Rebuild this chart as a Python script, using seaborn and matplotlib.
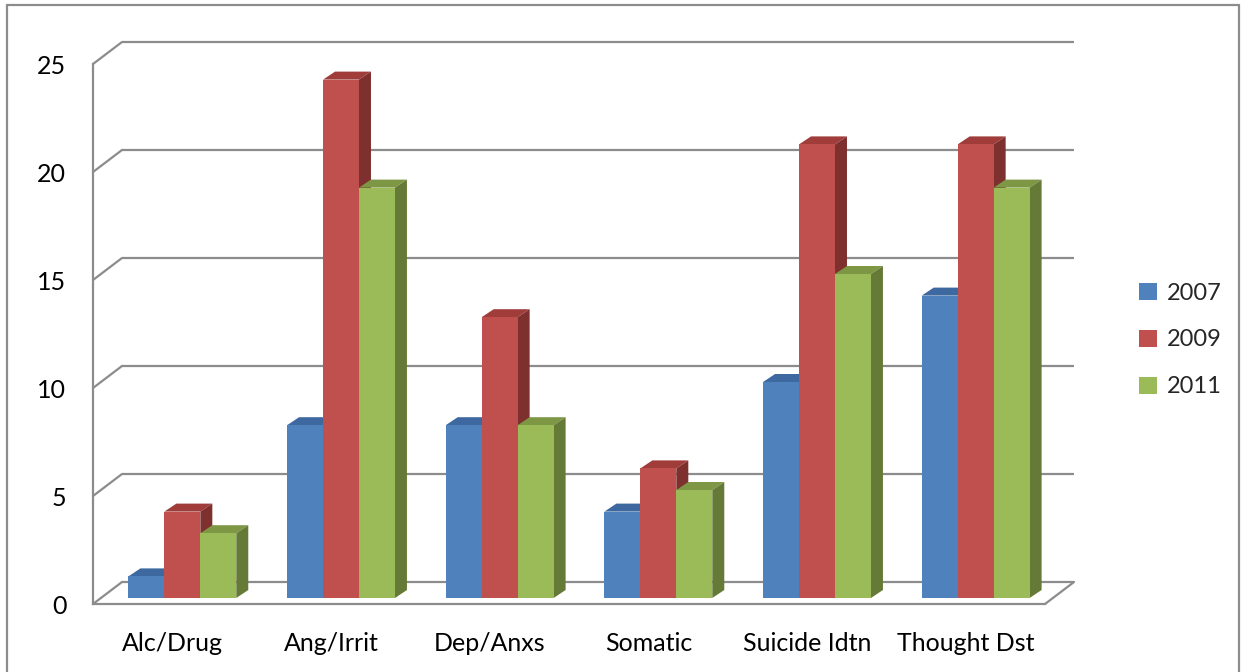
import matplotlib
matplotlib.use("Agg")
import matplotlib.pyplot as plt
from matplotlib.patches import Polygon
from matplotlib.lines import Line2D
import seaborn as sns
import pandas as pd

# ---- data ----
categories = ["Alc/Drug", "Ang/Irrit", "Dep/Anxs", "Somatic", "Suicide Idtn", "Thought Dst"]
years = ["2007", "2009", "2011"]
v2007 = [1, 8, 8, 4, 10, 14]
v2009 = [4, 24, 13, 6, 21, 21]
v2011 = [3, 19, 8, 5, 15, 19]
y_ticks = [0, 5, 10, 15, 20, 25]

front_cols = ["#4f81bd", "#c0504d", "#9bbb59"]
top_cols = ["#3e68a0", "#a03d3a", "#7d9744"]
side_cols = ["#355a8b", "#7e302e", "#667a37"]
grid_col = "#8c8c8c"

df = pd.DataFrame({
    "category": categories * 3,
    "year": [y for y in years for _ in categories],
    "value": v2007 + v2009 + v2011,
})

sns.set_theme(style="white")
plt.rcParams["font.family"] = ["Lato", "DejaVu Sans"]

DPI = 100
W, H = 1241, 672
fig = plt.figure(figsize=(W / DPI, H / DPI), dpi=DPI)
fig.patch.set_facecolor("white")

# front plane of the plot area, in pixels
x_left, x_right = 93, 1045
y_zero, y_top = 604, 64
ax = fig.add_axes([x_left / W, 1 - y_zero / H, (x_right - x_left) / W, (y_zero - y_top) / H])
ax.set_facecolor("none")

sns.barplot(data=df, x="category", y="value", hue="year", order=categories,
            hue_order=years, palette=front_cols, width=0.68, saturation=1,
            linewidth=0, ax=ax, legend=True)
ax.set_xlim(-0.5, len(categories) - 0.5)
ax.set_ylim(0, 25)


def px(dx, dy):
    """Convert a pixel offset into data units."""
    o = ax.transData.transform((0, 0))
    p = ax.transData.inverted().transform(o + (dx, dy))
    return p[0], p[1]


# bar placement inside the depth and the bar depth itself
bx, by = px(10, 6)
dx, dy = px(12, 8)
# wall depth
wx, wy = px(29, 22)

for j, cont in enumerate(ax.containers):
    for bar in cont:
        x0 = bar.get_x() + bx
        w = bar.get_width()
        h = bar.get_height()
        bar.set_x(x0)
        bar.set_y(by)
        bar.set_zorder(3 + j * 0.1 + 0.02)
        top = by + h
        ax.add_patch(Polygon([(x0, top), (x0 + w, top), (x0 + w + dx, top + dy), (x0 + dx, top + dy)],
                             closed=True, facecolor=top_cols[j], edgecolor="none",
                             zorder=3 + j * 0.1, clip_on=False))
        ax.add_patch(Polygon([(x0 + w, by), (x0 + w + dx, by + dy), (x0 + w + dx, top + dy), (x0 + w, top)],
                             closed=True, facecolor=side_cols[j], edgecolor="none",
                             zorder=3 + j * 0.1 + 0.01, clip_on=False))

# back wall gridlines and the slanted connectors on the side wall
xl, xr = -0.5, len(categories) - 0.5
for t in y_ticks:
    ax.add_line(Line2D([xl + wx, xr + wx], [t + wy, t + wy], color=grid_col, lw=1.6,
                       clip_on=False, zorder=1, solid_capstyle="butt"))
    ax.add_line(Line2D([xl, xl + wx], [t, t + wy], color=grid_col, lw=1.6,
                       clip_on=False, zorder=1))
# floor right edge
ax.add_line(Line2D([xr, xr + wx], [0, wy], color=grid_col, lw=1.6, clip_on=False, zorder=1))

# axes
for s in ["top", "right"]:
    ax.spines[s].set_visible(False)
for s in ["left", "bottom"]:
    ax.spines[s].set_color(grid_col)
    ax.spines[s].set_linewidth(1.6)
    ax.spines[s].set_zorder(2)

ax.set_yticks(y_ticks)
ax.set_yticklabels([str(t) for t in y_ticks])
ax.tick_params(axis="y", direction="out", length=7.2, width=1.6, color=grid_col,
               labelsize=18, labelcolor="black", pad=12)
ax.set_xticks(range(len(categories)))
ax.set_xticklabels(categories)
ax.set_xticks([i - 0.5 for i in range(len(categories) + 1)], minor=True)
ax.tick_params(axis="x", which="major", length=0, labelsize=18, labelcolor="black", pad=20)
ax.tick_params(axis="x", which="minor", direction="out", length=6, width=1.6, color=grid_col)
ax.set_xlabel("")
ax.set_ylabel("")

# legend on the right
handles, labels = ax.get_legend_handles_labels()
ax.legend(handles, labels, loc="center left", bbox_to_anchor=(1130 / W, 1 - 340 / H),
          bbox_transform=fig.transFigure, frameon=False, fontsize=17, borderaxespad=0,
          handlelength=0.75, handleheight=0.75, handletextpad=0.4, labelspacing=1.1)

# chart area border
fig.add_artist(Line2D([7 / W, 7 / W], [0, 1 - 5 / H], transform=fig.transFigure, color=grid_col, lw=1.6))
fig.add_artist(Line2D([7 / W, 1239 / W], [1 - 5 / H, 1 - 5 / H], transform=fig.transFigure, color=grid_col, lw=1.6))
fig.add_artist(Line2D([1239 / W, 1239 / W], [0, 1 - 5 / H], transform=fig.transFigure, color=grid_col, lw=1.6))

fig.savefig("out.png", dpi=DPI, facecolor="white")
